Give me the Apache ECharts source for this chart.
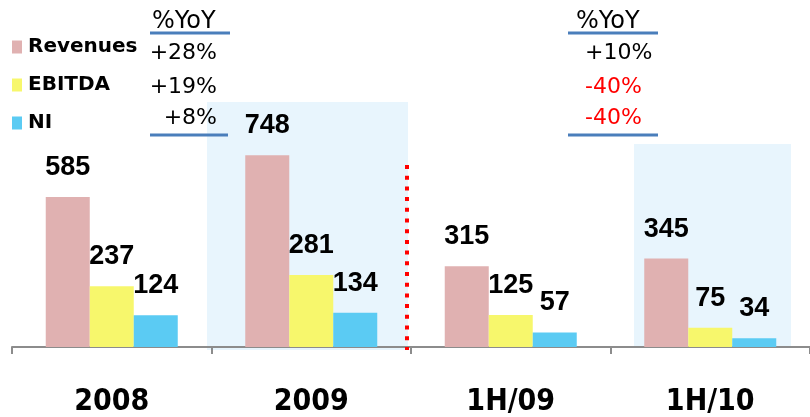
<!DOCTYPE html>
<html>
<head>
<meta charset="utf-8">
<script src="https://cdn.jsdelivr.net/npm/echarts@6/dist/echarts.min.js"></script>
<style>
  html, body { margin: 0; padding: 0; background: #fff; }
  #chart { width: 810px; height: 417px; }
</style>
</head>
<body>
<div id="chart"></div>
<script>
// Periods on the x axis
const periods = ['2008', '2009', '1H/09', '1H/10'];

// Financials per period
const revenues = [585, 748, 315, 345];
const ebitda = [237, 281, 125, 75];
const netIncome = [124, 134, 57, 34];

// Year-over-year change blocks (full year, half year)
const yoyFullYear = ['+28%', '+19%', '+8%'];
const yoyHalfYear = ['+10%', '-40%', '-40%'];

const colors = { rev: '#E0B1B1', ebitda: '#F7F76C', ni: '#5BCBF3' };
const labelFont = '"Liberation Sans", Arial, sans-serif';

const chart = echarts.init(document.getElementById('chart'), null, { renderer: 'canvas' });

function barSeries(name, data, color) {
  return {
    name: name,
    type: 'bar',
    data: data,
    barWidth: 44,
    barGap: '0%',
    z: 3,
    itemStyle: { color: color },
    label: {
      show: true,
      position: 'top',
      distance: 16,
      color: '#000',
      fontFamily: labelFont,
      fontWeight: 'bold',
      fontSize: 27
    }
  };
}

function yoyTexts(values, x, align) {
  const rows = [53, 87, 118];
  return values.map((v, i) => ({
    type: 'text',
    x: x,
    y: rows[i],
    z: 5,
    style: {
      text: v,
      fill: v.charAt(0) === '-' ? '#FF0000' : '#000',
      font: '22px "DejaVu Sans", sans-serif',
      align: align,
      verticalAlign: 'middle'
    }
  }));
}

function underline(x1, x2, y) {
  return {
    type: 'line',
    z: 5,
    shape: { x1: x1, y1: y, x2: x2, y2: y },
    style: { stroke: '#4A7EBB', lineWidth: 3 }
  };
}

const option = {
  animation: false,
  backgroundColor: '#fff',
  legend: {
    orient: 'vertical',
    left: 12,
    top: 37,
    padding: 0,
    itemGap: 18,
    itemWidth: 10,
    itemHeight: 13,
    icon: 'rect',
    textStyle: {
      fontFamily: '"DejaVu Sans", sans-serif',
      fontWeight: 'bold',
      fontSize: 20,
      lineHeight: 20,
      color: '#000',
      padding: [0, 0, 0, 1]
    },
    data: ['Revenues', 'EBITDA', 'NI']
  },
  grid: { left: 12, top: 142, width: 801, height: 208, containLabel: false },
  xAxis: {
    type: 'category',
    data: periods,
    axisLine: { show: true, lineStyle: { color: '#8C8C8C', width: 2 } },
    axisTick: { show: true, length: 7, lineStyle: { color: '#8C8C8C', width: 2 } },
    axisLabel: {
      margin: 40,
      color: '#000',
      fontFamily: '"DejaVu Sans Condensed", "DejaVu Sans", sans-serif',
      fontWeight: 'bold',
      fontSize: 30
    }
  },
  yAxis: {
    type: 'value',
    min: 0,
    max: 800,
    show: false,
    splitLine: { show: false }
  },
  series: [
    barSeries('Revenues', revenues, colors.rev),
    barSeries('EBITDA', ebitda, colors.ebitda),
    barSeries('NI', netIncome, colors.ni)
  ],
  graphic: [
    // shaded panels behind 2009 and 1H/10
    { type: 'rect', z: 0, shape: { x: 207, y: 102, width: 201, height: 248 }, style: { fill: '#E8F5FD' } },
    { type: 'rect', z: 0, shape: { x: 634, y: 144, width: 157, height: 203 }, style: { fill: '#E8F5FD' } },
    // divider between annual and half-year figures
    {
      type: 'line', z: 4,
      shape: { x1: 407, y1: 165, x2: 407, y2: 350 },
      style: { stroke: '#FF0000', lineWidth: 4, lineDash: [4, 6.7] }
    },
    // %YoY headers
    { type: 'text', z: 5, x: 152, y: 22, style: { text: '%YoY', fill: '#000', font: '24px "DejaVu Sans", sans-serif', verticalAlign: 'middle' } },
    { type: 'text', z: 5, x: 576, y: 22, style: { text: '%YoY', fill: '#000', font: '24px "DejaVu Sans", sans-serif', verticalAlign: 'middle' } },
    underline(150, 230, 33),
    underline(150, 228, 135),
    underline(568, 658, 33),
    underline(568, 658, 135)
  ].concat(yoyTexts(yoyFullYear, 217, 'right'), yoyTexts(yoyHalfYear, 585, 'left'))
};

chart.setOption(option);
</script>
</body>
</html>
